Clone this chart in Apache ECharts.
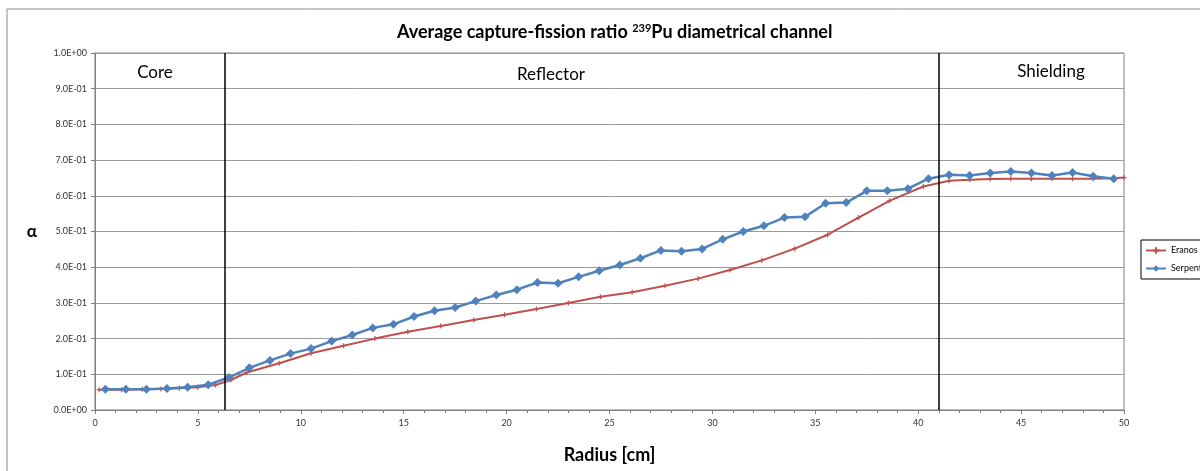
<!DOCTYPE html>
<html>
<head>
<meta charset="utf-8">
<script src="https://cdn.jsdelivr.net/npm/echarts@6/dist/echarts.min.js"></script>
<style>html,body{margin:0;padding:0;background:#fff;}#c{width:1200px;height:471px;}</style>
</head>
<body>
<div id="c"></div>
<script>
// ---- data ----
const eranosR = [0.2, 1.3, 2.3, 3.2, 4.1, 5.0, 5.85, 6.6,
  7.38, 8.95, 10.5, 12.08, 13.6, 15.2, 16.8, 18.4, 19.9, 21.45, 23.0, 24.56,
  26.1, 27.7, 29.3, 30.85, 32.4, 34.0, 35.6, 37.1, 38.6, 40.25,
  41.5, 42.5, 43.5, 44.5, 45.5, 46.5, 47.5, 48.5, 49.5, 50];
const eranosAlpha = [0.057, 0.057, 0.058, 0.059, 0.061, 0.064, 0.070, 0.084,
  0.105, 0.131, 0.159, 0.180, 0.200, 0.219, 0.235, 0.252, 0.267, 0.283, 0.300, 0.317,
  0.330, 0.348, 0.368, 0.392, 0.419, 0.452, 0.491, 0.539, 0.586, 0.626,
  0.642, 0.645, 0.647, 0.648, 0.648, 0.648, 0.648, 0.648, 0.649, 0.651];
const serpentR = [0.5, 1.5, 2.5, 3.5, 4.5, 5.5, 6.5, 7.5, 8.5, 9.5,
  10.5, 11.5, 12.5, 13.5, 14.5, 15.5, 16.5, 17.5, 18.5, 19.5,
  20.5, 21.5, 22.5, 23.5, 24.5, 25.5, 26.5, 27.5, 28.5, 29.5,
  30.5, 31.5, 32.5, 33.5, 34.5, 35.5, 36.5, 37.5, 38.5, 39.5,
  40.5, 41.5, 42.5, 43.5, 44.5, 45.5, 46.5, 47.5, 48.5, 49.5];
const serpentAlpha = [0.058, 0.058, 0.058, 0.060, 0.064, 0.071, 0.091, 0.118, 0.139, 0.158,
  0.172, 0.193, 0.210, 0.230, 0.240, 0.262, 0.278, 0.287, 0.305, 0.322,
  0.337, 0.357, 0.355, 0.373, 0.390, 0.406, 0.425, 0.447, 0.445, 0.451,
  0.478, 0.500, 0.516, 0.539, 0.541, 0.579, 0.581, 0.614, 0.614, 0.620,
  0.648, 0.659, 0.657, 0.664, 0.668, 0.664, 0.657, 0.665, 0.655, 0.648];
const regionBounds = [6.32, 41.0];
const regionLabels = ['Core', 'Reflector', 'Shielding'];
const seriesNames = ['Eranos', 'Serpent'];

const zip = (xs, ys) => xs.map((x, i) => [x, ys[i]]);
const fmtY = v => {
  if (v === 0) return '0.0E+00';
  const e = Math.floor(Math.log10(v) + 1e-9);
  const m = v / Math.pow(10, e);
  const s = e < 0 ? '-' : '+';
  const a = Math.abs(e);
  return m.toFixed(1) + 'E' + s + (a < 10 ? '0' : '') + a;
};

const FONT = 'Lato, "Open Sans", sans-serif';
const chart = echarts.init(document.getElementById('c'), null, {renderer: 'canvas'});
chart.setOption({
  animation: false,
  backgroundColor: '#fff',
  title: {
    text: 'Average capture-fission ratio {sup|239}Pu diametrical channel',
    left: 392, top: 18,
    textStyle: {
      fontFamily: FONT, fontSize: 18, fontWeight: 'bold', color: '#000',
      rich: { sup: { fontFamily: FONT, fontSize: 11, fontWeight: 'bold', verticalAlign: 'top', padding: [0, 0, 7, 0], color: '#000' } }
    }
  },
  legend: {
    left: 1141, top: 240, orient: 'vertical',
    borderColor: '#000', borderWidth: 1, padding: [6, 6, 6, 4],
    itemWidth: 20, itemHeight: 8, itemGap: 9,
    textStyle: { fontFamily: FONT, fontSize: 9, color: '#000' },
    data: seriesNames
  },
  grid: { left: 95, right: 76, top: 53, bottom: 61, show: true, borderColor: '#7f7f7f', borderWidth: 1 },
  xAxis: {
    type: 'value', min: 0, max: 50, interval: 5,
    name: 'Radius [cm]', nameLocation: 'middle', nameGap: 36,
    nameTextStyle: { fontFamily: FONT, fontSize: 18, fontWeight: 'bold', color: '#000' },
    axisLine: { lineStyle: { color: '#7f7f7f' } },
    axisTick: { show: true, length: 4, lineStyle: { color: '#7f7f7f' } },
    minorTick: { show: true, splitNumber: 5, length: 3, lineStyle: { color: '#7f7f7f' } },
    splitLine: { show: false },
    axisLabel: { fontFamily: FONT, fontSize: 9, color: '#333', margin: 9 }
  },
  yAxis: {
    type: 'value', min: 0, max: 1, interval: 0.1,
    name: 'α', nameLocation: 'middle', nameGap: 58, nameRotate: 0,
    nameTextStyle: { fontFamily: FONT, fontSize: 17, fontWeight: 'bold', color: '#000' },
    axisLine: { show: true, lineStyle: { color: '#7f7f7f' } },
    axisTick: { show: true, length: 4, lineStyle: { color: '#7f7f7f' } },
    splitLine: { show: true, lineStyle: { color: '#9a9a9a', width: 1 } },
    axisLabel: { fontFamily: FONT, fontSize: 9, color: '#333', margin: 8, formatter: fmtY }
  },
  series: [
    {
      name: seriesNames[0], type: 'line', data: zip(eranosR, eranosAlpha),
      symbol: 'path://M-1,0L1,0M0,-1L0,1', symbolSize: 5,
      itemStyle: { color: '#C0504D', borderColor: '#C0504D', borderWidth: 1.2 },
      lineStyle: { color: '#C0504D', width: 2 },
      z: 2,
      markLine: {
        silent: true, symbol: 'none', label: { show: false },
        lineStyle: { color: '#000', width: 1.5, type: 'solid' },
        data: regionBounds.map(b => ({ xAxis: b }))
      }
    },
    {
      name: seriesNames[1], type: 'line', data: zip(serpentR, serpentAlpha),
      symbol: 'diamond', symbolSize: 9,
      itemStyle: { color: '#4F81BD' },
      lineStyle: { color: '#4F81BD', width: 2.5 },
      z: 3
    }
  ],
  graphic: [
    { type: 'rect', shape: { x: 7, y: 9, width: 1400, height: 700 }, style: { fill: null, stroke: '#8c8c8c', lineWidth: 1 }, silent: true, z: -10 },
    { type: 'text', x: 155, y: 73, style: { text: regionLabels[0], font: '17px ' + FONT, fill: '#000', textAlign: 'center', textVerticalAlign: 'middle' } },
    { type: 'text', x: 551, y: 75, style: { text: regionLabels[1], font: '17px ' + FONT, fill: '#000', textAlign: 'center', textVerticalAlign: 'middle' } },
    { type: 'text', x: 1051, y: 72, style: { text: regionLabels[2], font: '17px ' + FONT, fill: '#000', textAlign: 'center', textVerticalAlign: 'middle' } }
  ]
});
</script>
</body>
</html>
